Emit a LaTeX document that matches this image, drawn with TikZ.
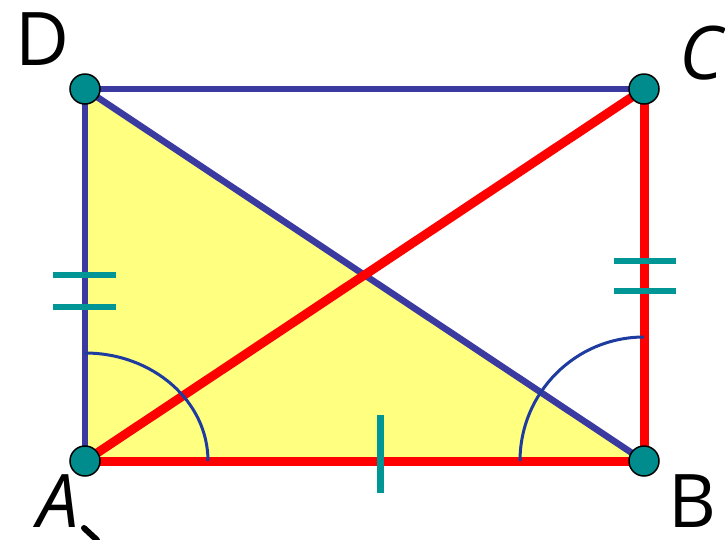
\documentclass[tikz,border=0pt]{standalone}
\usepackage{fontspec}
\setmainfont{Open Sans}
\definecolor{navy}{RGB}{58,58,160}
\definecolor{arcblue}{RGB}{30,60,160}
\definecolor{tealc}{RGB}{0,150,150}
\definecolor{tealdot}{RGB}{0,140,140}
\definecolor{yel}{RGB}{255,255,128}
\begin{document}
\begin{tikzpicture}[x=1pt,y=-1pt,
  blueline/.style={navy,line width=6.5pt},
  redline/.style={red,line width=9pt},
  tickm/.style={tealc,line width=6pt},
  anglearc/.style={arcblue,line width=3pt},
  vdot/.style={circle,fill=tealdot,draw=black,line width=1.5pt,minimum size=30pt,inner sep=0pt},
  lbl/.style={font=\fontsize{74}{74}\selectfont,inner sep=0pt,anchor=base,text height=54pt,text depth=0pt}]
\useasboundingbox (0,0) rectangle (725,539);
\coordinate (A) at (85,461);
\coordinate (B) at (644,461);
\coordinate (C) at (644,89);
\coordinate (D) at (85,89);
\fill[yel] (A) -- (B) -- (D) -- cycle;
\draw[blueline] (D) -- (C);
\draw[blueline] (A) -- (D);
\draw[blueline] (D) -- (B);
\draw[redline] (A) -- (B);
\draw[redline] (B) -- (C);
\draw[redline] (A) -- (C);
% angle arcs
\draw[anglearc] (85,353) arc[start angle=-90,end angle=0,x radius=123,y radius=108];
\draw[anglearc] (644,337) arc[start angle=-90,end angle=-180,x radius=124,y radius=124];
% ticks
\coordinate (t1a) at (53,275); \coordinate (t1b) at (116,275);
\coordinate (t2a) at (53,307); \coordinate (t2b) at (116,307);
\coordinate (t3a) at (614,261); \coordinate (t3b) at (676,261);
\coordinate (t4a) at (614,291); \coordinate (t4b) at (676,291);
\coordinate (t5a) at (380,415); \coordinate (t5b) at (380,493);
\draw[tickm] (t1a) -- (t1b);
\draw[tickm] (t2a) -- (t2b);
\draw[tickm] (t3a) -- (t3b);
\draw[tickm] (t4a) -- (t4b);
\draw[tickm,line width=7pt] (t5a) -- (t5b);
% vertices
\node[vdot] (nA) at (A) {};
\node[vdot] (nB) at (B) {};
\node[vdot] (nC) at (C) {};
\node[vdot] (nD) at (D) {};
% labels
\node[lbl] (lD) at (42,65) {D};
\node[lbl,font=\fontsize{74}{74}\selectfont\itshape] (lC) at (701,79) {C};
\node[lbl,font=\fontsize{74}{74}\selectfont\itshape] (lA) at (58,527) {A};
\node[lbl] (lB) at (692,527) {B};
\coordinate (s1) at (84,528); \coordinate (s2) at (97,540);
\draw[black,line width=6pt,line cap=round] (s1) -- (s2);
\end{tikzpicture}
\end{document}
